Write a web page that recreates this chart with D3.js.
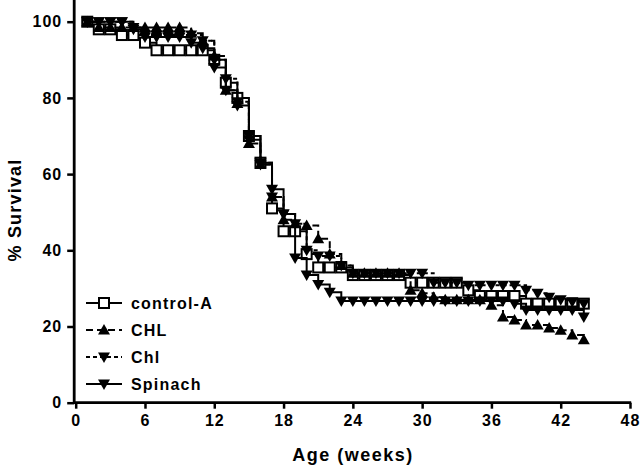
<!DOCTYPE html>
<html>
<head>
<meta charset="utf-8">
<script src="https://cdn.jsdelivr.net/npm/d3@7"></script>
<style>
  html, body { margin: 0; padding: 0; background: #fff; }
  svg { display: block; }
  text { font-family: Arial, "Liberation Sans", sans-serif; font-weight: bold; fill: #000; }
</style>
</head>
<body>
<svg id="chart" width="640" height="465"></svg>
<script>
const weeks = [1,2,3,4,5,6,7,8,9,10,11,12,13,14,15,16,17,18,19,20,21,22,23,24,25,26,27,28,29,30,31,32,33,34,35,36,37,38,39,40,41,42,43,44];

const controlA = [100,98,98,96.5,96.5,94.5,92.5,92.5,92.5,92.5,92.5,90,84,80,70,63,51,45,45,39,35.5,35.5,35.5,33.5,33.5,33.5,33.5,33.5,31.5,31.5,31.5,31.5,31.5,29.5,28,28,28,28,26,26,26,26,26,26];
const CHL = [100,98.5,98.5,98.5,98.5,98.5,98.5,98.5,98.5,97,95,91,82,78.5,68,62.5,54,48,47,46.5,43,39,36,34,34,34,34,34,29.5,28.7,27.7,27,27,27,27,25.6,22.5,21.7,20.4,20.4,19.6,19,17.8,16.5];
const Chl = [100,100,100,100,98.5,96.5,96.5,96.5,96.5,96.5,95,90,85,79,70,63,54,49.5,47,40,38.5,38.5,36,34,34,34,34,34,34,34,31.5,31.5,31.5,30.8,30.8,30.8,30.8,30.8,29.5,28.7,27.7,27,26.5,26];
const Spinach = [100,100,100,100,98,96,96,96,96,94.5,93,88,82,78,69,62.5,56,49.5,38,33.5,31,29,26.7,26.7,26.7,26.7,26.7,26.7,26.7,26.7,26.7,26.7,26.7,26.7,26.7,26.7,26.7,26,24.3,24.3,24.3,24.3,24.3,22.5];

const seriesNames = ["control-A", "CHL", "Chl", "Spinach"];
const xTicks = [0,6,12,18,24,30,36,42,48];
const yTicks = [0,20,40,60,80,100];

const series = [
  { name: seriesNames[0], values: controlA, marker: "square", dash: null },
  { name: seriesNames[1], values: CHL, marker: "up", dash: "7,4" },
  { name: seriesNames[2], values: Chl, marker: "down", dash: "4,3" },
  { name: seriesNames[3], values: Spinach, marker: "down", dash: null }
];

const svg = d3.select("#chart");
const x = d3.scaleLinear().domain([0, 48]).range([75.7, 630]);
const y = d3.scaleLinear().domain([0, 100]).range([402.7, 21.7]);

// axes
const xAxis = d3.axisBottom(x).tickValues(xTicks).tickSize(6).tickPadding(6).tickFormat(d3.format("d"));
const yAxis = d3.axisLeft(y).tickValues(yTicks).tickSize(7).tickPadding(5).tickFormat(d3.format("d"));

const gx = svg.append("g").attr("transform", `translate(0,${y(0)})`).call(xAxis);
gx.select(".domain").remove();
gx.selectAll(".tick line").attr("stroke", "#000").attr("stroke-width", 2.5);
gx.selectAll(".tick text").style("font-size", "16px").style("font-weight", "bold").style("font-family", "Arial, 'Liberation Sans', sans-serif").attr("letter-spacing", "1px").attr("fill", "#000");
svg.append("line").attr("x1", x(0) - 1.5).attr("x2", x(48) + 1.2).attr("y1", y(0)).attr("y2", y(0)).attr("stroke", "#000").attr("stroke-width", 2.8);

const gy = svg.append("g").attr("transform", `translate(${x(0) - 1.5},0)`).call(yAxis);
gy.select(".domain").remove();
gy.selectAll(".tick line").attr("stroke", "#000").attr("stroke-width", 2.5);
gy.selectAll(".tick text").style("font-size", "16px").style("font-weight", "bold").style("font-family", "Arial, 'Liberation Sans', sans-serif").attr("letter-spacing", "1px").attr("fill", "#000");
svg.append("line").attr("x1", x(0) - 1.5).attr("x2", x(0) - 1.5).attr("y1", y(0) + 1.2).attr("y2", 0).attr("stroke", "#000").attr("stroke-width", 2.8);

// titles
svg.append("text").attr("x", 353).attr("y", 461).attr("text-anchor", "middle")
  .style("font-size", "18px").attr("letter-spacing", "1.5px").text("Age (weeks)");
svg.append("text").attr("transform", "translate(21,210) rotate(-90)").attr("text-anchor", "middle")
  .style("font-size", "18px").attr("letter-spacing", "1.2px").text("% Survival");

// markers
function drawMarker(g, type, cx, cy) {
  if (type === "square") {
    g.append("rect").attr("x", cx - 5).attr("y", cy - 5).attr("width", 10).attr("height", 10)
      .attr("fill", "#fff").attr("stroke", "#000").attr("stroke-width", 2);
  } else if (type === "up") {
    g.append("path").attr("d", `M${cx},${cy - 6}L${cx + 6},${cy + 4.5}L${cx - 6},${cy + 4.5}Z`).attr("fill", "#000");
  } else {
    g.append("path").attr("d", `M${cx},${cy + 6}L${cx + 6},${cy - 4.5}L${cx - 6},${cy - 4.5}Z`).attr("fill", "#000");
  }
}

const line = d3.line().x(d => x(d[0])).y(d => y(d[1])).curve(d3.curveStepAfter);

series.forEach(s => {
  const pts = weeks.map((w, i) => [w, s.values[i]]);
  const g = svg.append("g");
  g.append("path").attr("d", line(pts)).attr("fill", "none").attr("stroke", "#000")
    .attr("stroke-width", 2).attr("stroke-dasharray", s.dash);
  pts.forEach(p => drawMarker(g, s.marker, x(p[0]), y(p[1])));
});

// legend
const legendY = [303, 330, 357, 384];
series.forEach((s, i) => {
  const g = svg.append("g");
  g.append("line").attr("x1", 86).attr("x2", 122).attr("y1", legendY[i]).attr("y2", legendY[i])
    .attr("stroke", "#000").attr("stroke-width", 2).attr("stroke-dasharray", s.dash);
  drawMarker(g, s.marker, 104, legendY[i]);
  g.append("text").attr("x", 131).attr("y", legendY[i] + 6).style("font-size", "16px")
    .attr("letter-spacing", "1.2px").text(s.name);
});
</script>
</body>
</html>
